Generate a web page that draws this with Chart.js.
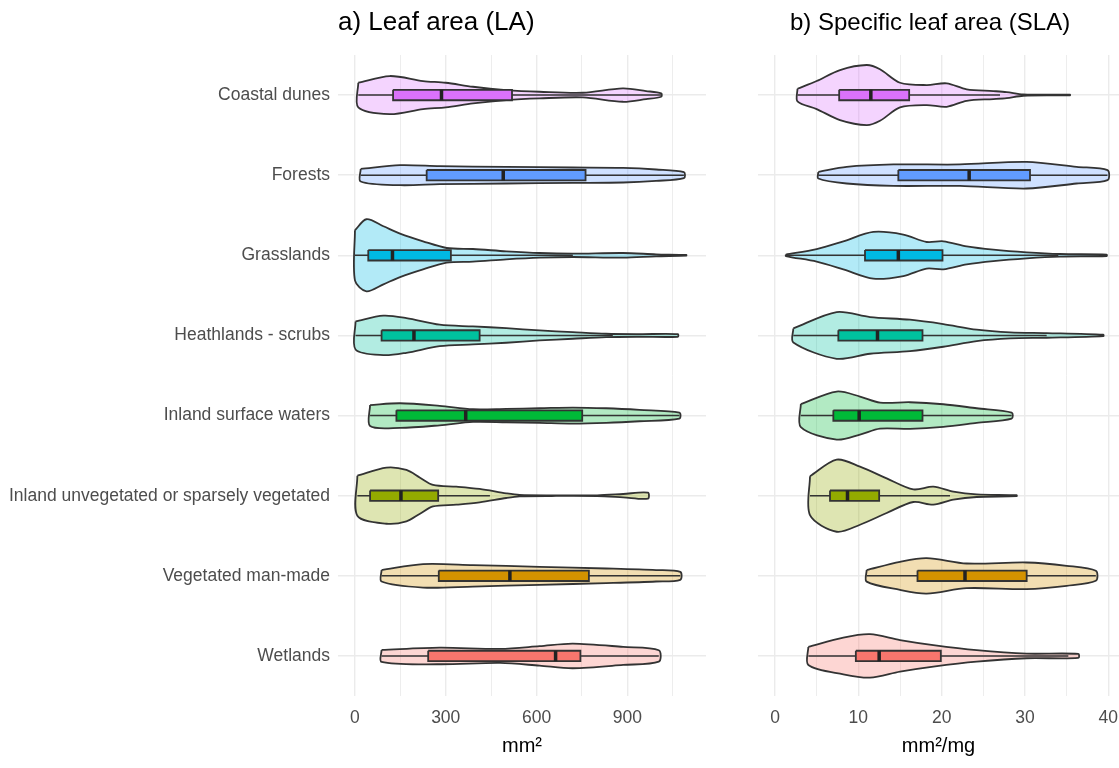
<!DOCTYPE html>
<html>
<head>
<meta charset="utf-8">
<script src="https://cdn.jsdelivr.net/npm/chart.js@4.4.1/dist/chart.umd.min.js"></script>
<style>
  html, body { margin: 0; padding: 0; background: #fff; }
  #wrap { position: relative; width: 1119px; height: 768px; overflow: hidden; }
  .box { position: absolute; top: 0; height: 768px; }
</style>
</head>
<body>
<div id="wrap">
  <div class="box" style="left:0;width:712px"><canvas id="la"></canvas></div>
  <div class="box" style="left:712px;width:407px"><canvas id="sla"></canvas></div>
</div>
<script>
const habitats = [
  "Coastal dunes",
  "Forests",
  "Grasslands",
  "Heathlands - scrubs",
  "Inland surface waters",
  "Inland unvegetated or sparsely vegetated",
  "Vegetated man-made",
  "Wetlands"
];
const habitatColors = ["#DB72FB", "#619CFF", "#00B9E3", "#00C19F", "#00BA38", "#93AA00", "#D39200", "#F8766D"];

// leaf area (mm²): boxplot stats
const laLow    = [11, 19, 0, 2, 50, 8, 88, 88];
const laQ1     = [126, 237, 44, 88, 137, 50, 277, 242];
const laMedian = [286, 490, 124, 195, 366, 152, 512, 663];
const laQ3     = [519, 762, 317, 412, 751, 275, 773, 745];
const laHigh   = [1012, 1087, 720, 852, 1072, 446, 1075, 1004];

// leaf area: density profile (value positions and relative density)
const laDensityAt = [
  [11, 115, 225, 300, 390, 500, 610, 753, 885, 962, 1012],
  [19, 149, 280, 500, 720, 886, 995, 1087],
  [0, 38, 94, 149, 225, 303, 390, 500, 610, 720, 886, 995, 1095],
  [2, 94, 170, 280, 390, 500, 610, 720, 830, 940, 1067],
  [50, 149, 280, 390, 500, 610, 720, 830, 940, 1072],
  [8, 104, 170, 215, 258, 335, 412, 500, 544, 650, 800, 886, 968],
  [88, 225, 390, 610, 830, 995, 1075],
  [88, 280, 480, 610, 720, 886, 1004]
];
const laDensity = [
  [12.3, 19, 14, 12.3, 8.3, 5, 3.3, 2.3, 6.7, 4, 1.7],
  [6.3, 10, 9, 8.3, 7.7, 7.3, 5.7, 3],
  [25, 36, 29, 21.7, 14, 7.3, 6.3, 4, 2.3, 1.7, 2.3, 1, 0.3],
  [14, 19.7, 17.3, 10.7, 9, 7.3, 5, 3.3, 1.7, 1.3, 1.3],
  [10.5, 12.3, 9.7, 6.3, 6.7, 7.3, 8, 7.3, 5.7, 3],
  [20, 28, 25.7, 18, 10.7, 9, 6.7, 2.3, 0.7, 0.3, 0.4, 1.7, 3],
  [5.7, 11.7, 10.7, 9, 7.3, 5.7, 4],
  [6, 8.3, 7, 9.7, 12.3, 9, 5.7]
];

// specific leaf area (mm²/mg): boxplot stats
const slaLow    = [2.7, 5.2, 1.3, 2.2, 3.1, 4.2, 11, 4];
const slaQ1     = [7.7, 14.8, 10.8, 7.6, 7, 6.6, 17.1, 9.7];
const slaMedian = [11.5, 23.3, 14.8, 12.3, 10.1, 8.7, 22.8, 12.5];
const slaQ3     = [16.1, 30.6, 20.1, 17.7, 17.7, 12.5, 30.2, 19.9];
const slaHigh   = [27, 39.9, 34, 32.6, 28.4, 21, 38.5, 35.2];

const slaDensityAt = [
  [2.7, 5, 7.8, 11, 12.6, 15, 18.2, 20.6, 23, 26.2, 27.8, 29.8, 35.4],
  [5.2, 8.6, 14.2, 22.2, 30.2, 36.2, 39.9],
  [1.3, 5, 8.2, 11.8, 15.4, 18.2, 20.2, 23, 26.2, 30.2, 34.2, 39.8],
  [2.2, 7.4, 11.4, 16.2, 20.2, 24.2, 28.2, 32.6, 39.4],
  [3.1, 7.4, 10.2, 12.6, 16.2, 20.2, 24.2, 28.4],
  [4.2, 7.4, 10.2, 13.4, 16.6, 19, 21.4, 24.2, 29],
  [11, 15, 18.2, 23, 30.2, 35, 38.5],
  [4, 8.2, 11.4, 15, 19, 24.2, 30.2, 36.4]
];
const slaDensity = [
  [6.3, 14, 25, 30, 25.7, 12.3, 10, 11.7, 5.7, 4, 3, 0.7, 0.3],
  [3.3, 8.3, 10.7, 10.7, 13.3, 8.3, 5],
  [0.7, 6.3, 14, 23.3, 20.7, 13.3, 14, 9, 5.7, 3, 1.3, 0.7],
  [7, 23.3, 18.3, 15.7, 11.3, 5.7, 3, 2.3, 0.7],
  [11.5, 24, 19, 13, 13.3, 11.3, 7.3, 3],
  [19.5, 36, 29, 17.3, 6.3, 9, 4, 1.3, 0.5],
  [5.8, 14, 17.7, 12.3, 13.3, 10, 5],
  [9, 18.3, 21.7, 15.7, 10.7, 5.7, 2.3, 2]
];

const laTicks = [0, 150, 300, 450, 600, 750, 900, 1050];
const slaTicks = [0, 5, 10, 15, 20, 25, 30, 35, 40];

const FONT = '"Liberation Sans", Arial, Helvetica, sans-serif';
Chart.defaults.font.family = FONT;

const DENS_SCALE = 1 / 80;  // density -> category units
const BOX_HALF = 0.065;
const OUTLINE = "#333333";

function rgba(hex, a) {
  const n = parseInt(hex.slice(1), 16);
  return `rgba(${(n >> 16) & 255},${(n >> 8) & 255},${n & 255},${a})`;
}

function buildDatasets(at, dens, low, q1, med, q3, high) {
  const sets = [];
  habitats.forEach((h, i) => {
    const c = i + 1;
    const outline = [];
    at[i].forEach((x, k) => outline.push({ x, y: c - dens[i][k] * DENS_SCALE }));
    for (let k = at[i].length - 1; k >= 0; k--) outline.push({ x: at[i][k], y: c + dens[i][k] * DENS_SCALE });
    outline.push(outline[0]);
    sets.push({
      data: outline, showLine: true, fill: "shape", tension: 0.3,
      backgroundColor: rgba(habitatColors[i], 0.3), borderColor: OUTLINE, borderWidth: 1.8, order: 3
    });
    sets.push({
      data: [{ x: low[i], y: c }, { x: high[i], y: c }], showLine: true, fill: false,
      borderColor: OUTLINE, borderWidth: 1.5, order: 2
    });
    sets.push({
      data: [
        { x: q1[i], y: c - BOX_HALF }, { x: q3[i], y: c - BOX_HALF },
        { x: q3[i], y: c + BOX_HALF }, { x: q1[i], y: c + BOX_HALF }, { x: q1[i], y: c - BOX_HALF }
      ],
      showLine: true, fill: "shape", tension: 0,
      backgroundColor: habitatColors[i], borderColor: OUTLINE, borderWidth: 1.8, order: 1
    });
    sets.push({
      data: [{ x: med[i], y: c - BOX_HALF }, { x: med[i], y: c + BOX_HALF }], showLine: true, fill: false,
      borderColor: "#222", borderWidth: 3.5, borderCapStyle: "butt", order: 0
    });
  });
  return sets;
}

const panelTitle = {
  id: "panelTitle",
  afterDraw(chart, args, opts) {
    const { ctx, chartArea } = chart;
    ctx.save();
    ctx.font = `${opts.size}px ${FONT}`;
    ctx.fillStyle = "#000";
    ctx.textBaseline = "middle";
    ctx.fillText(opts.text, chartArea.left + opts.dx, 23);
    ctx.restore();
  }
};

function makeChart(id, cfg) {
  const grid = {
    color: "#ebebeb",
    drawTicks: false,
    lineWidth: 1
  };
  return new Chart(document.getElementById(id), {
    type: "scatter",
    data: { datasets: buildDatasets(...cfg.data) },
    plugins: [panelTitle],
    options: {
      responsive: true,
      maintainAspectRatio: false,
      animation: false,
      layout: { padding: { top: 55, right: cfg.padRight, left: 0, bottom: 0 } },
      elements: { point: { radius: 0, hoverRadius: 0 } },
      plugins: {
        legend: { display: false },
        tooltip: { enabled: false },
        panelTitle: { text: cfg.title, dx: cfg.titleDx, size: cfg.titleSize }
      },
      scales: {
        x: {
          type: "linear", min: cfg.xMin, max: cfg.xMax,
          afterBuildTicks: s => { s.ticks = cfg.ticks.map(v => ({ value: v })); },
          afterFit: s => { s.height = 72; s.paddingLeft = 0; s.paddingRight = 0; },
          grid: { ...grid, lineWidth: ctx => (ctx.tick && ctx.tick.value % cfg.labelStep === 0 ? 1.4 : 0.9) },
          border: { display: false },
          ticks: {
            autoSkip: false, maxRotation: 0, padding: 12,
            color: "#4d4d4d", font: { size: 17.5 },
            callback: v => (v % cfg.labelStep === 0 ? String(v) : "")
          },
          title: { display: true, text: cfg.xTitle, color: "#000", font: { size: 20 }, padding: { top: 0, bottom: 10 } }
        },
        y: {
          type: "linear", min: 0.5, max: 8.5, reverse: true,
          afterBuildTicks: s => { s.ticks = habitats.map((h, i) => ({ value: i + 1 })); },
          afterFit: s => { s.width = cfg.yWidth; },
          grid: { ...grid, lineWidth: 1.4 },
          border: { display: false },
          ticks: {
            display: cfg.showLabels, autoSkip: false, padding: 8,
            color: "#4d4d4d", font: { size: 17.5 },
            callback: v => habitats[Math.round(v) - 1]
          }
        }
      }
    }
  });
}

makeChart("la", {
  data: [laDensityAt, laDensity, laLow, laQ1, laMedian, laQ3, laHigh],
  ticks: laTicks, labelStep: 300, xMin: -56, xMax: 1160,
  xTitle: "mm²", title: "a) Leaf area (LA)", titleDx: 0, titleSize: 26,
  yWidth: 338, showLabels: true, padRight: 6
});

makeChart("sla", {
  data: [slaDensityAt, slaDensity, slaLow, slaQ1, slaMedian, slaQ3, slaHigh],
  ticks: slaTicks, labelStep: 10, xMin: -2.04, xMax: 41.28,
  xTitle: "mm²/mg", title: "b) Specific leaf area (SLA)", titleDx: 32, titleSize: 24,
  yWidth: 46, showLabels: false, padRight: 0
});
</script>
</body>
</html>
